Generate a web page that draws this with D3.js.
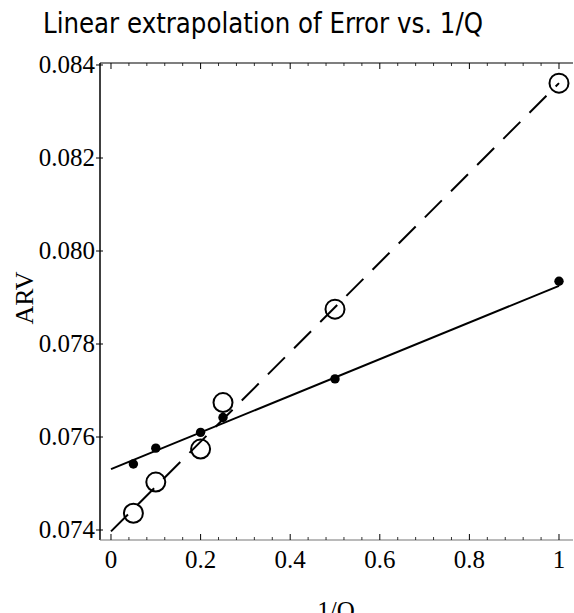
<!DOCTYPE html>
<html>
<head>
<meta charset="utf-8">
<script src="https://cdn.jsdelivr.net/npm/d3@7"></script>
<style>
  html, body { margin: 0; padding: 0; background: #fff; }
  svg { display: block; }
</style>
</head>
<body>
<svg id="chart" width="574" height="613"></svg>
<script>
// ---- data ----
const invQ        = [0.05, 0.10, 0.20, 0.25, 0.50, 1.00];
const errorFilled = [0.07542, 0.07576, 0.07610, 0.07642, 0.07725, 0.07935];
const errorOpen   = [0.07436, 0.07503, 0.07574, 0.07674, 0.07875, 0.08361];
const fitSolidX   = [0, 1];
const fitSolidY   = [0.07531, 0.07925];
const fitDashedX  = [0, 1];
const fitDashedY  = [0.07397, 0.08361];
const xTicks      = [0, 0.2, 0.4, 0.6, 0.8, 1];
const xTickLabels = ["0", "0.2", "0.4", "0.6", "0.8", "1"];
const yTicks      = [0.074, 0.076, 0.078, 0.080, 0.082, 0.084];
const yTickLabels = ["0.074", "0.076", "0.078", "0.080", "0.082", "0.084"];
const xMinorTicks = d3.range(0, 26).map(i => i * 0.04).filter(v => v <= 1.0001 && Math.abs(v / 0.2 - Math.round(v / 0.2)) > 1e-6);

// ---- layout ----
const pLeft = 100, pRight = 573, pTop = 63, pBottom = 540;
const svg = d3.select("#chart");

const x = d3.scaleLinear().domain([-0.02455, 1.03125]).range([pLeft, pRight]);
const y = d3.scaleLinear().domain([0.073785, 0.084043]).range([pBottom, pTop]);

// title
svg.append("text")
  .attr("x", 263).attr("y", 33)
  .attr("text-anchor", "middle")
  .attr("font-family", "DejaVu Sans, sans-serif")
  .attr("font-size", 28)
  .attr("textLength", 440)
  .attr("lengthAdjust", "spacingAndGlyphs")
  .attr("fill", "#000")
  .text("Linear extrapolation of Error vs. 1/Q");

// frame
svg.append("line").attr("x1", pLeft).attr("x2", pLeft).attr("y1", pTop).attr("y2", pBottom)
  .attr("stroke", "#000").attr("stroke-width", 1.5);
svg.append("line").attr("x1", pLeft).attr("x2", pRight).attr("y1", pTop).attr("y2", pTop)
  .attr("stroke", "#000").attr("stroke-width", 1.2);
svg.append("line").attr("x1", pLeft).attr("x2", pRight).attr("y1", pBottom).attr("y2", pBottom)
  .attr("stroke", "#777").attr("stroke-width", 1.2);

// x ticks (bottom and top)
const gx = svg.append("g");
gx.selectAll(".xmaj").data(xTicks).join("g").each(function(d) {
  const g = d3.select(this);
  g.append("line").attr("x1", x(d)).attr("x2", x(d)).attr("y1", pBottom).attr("y2", pBottom - 6)
    .attr("stroke", "#000").attr("stroke-width", 1);
  g.append("line").attr("x1", x(d)).attr("x2", x(d)).attr("y1", pTop).attr("y2", pTop + 6)
    .attr("stroke", "#000").attr("stroke-width", 1);
});
gx.selectAll(".xmin").data(xMinorTicks).join("g").each(function(d) {
  const g = d3.select(this);
  g.append("line").attr("x1", x(d)).attr("x2", x(d)).attr("y1", pBottom).attr("y2", pBottom - 3)
    .attr("stroke", "#000").attr("stroke-width", 0.8);
  g.append("line").attr("x1", x(d)).attr("x2", x(d)).attr("y1", pTop).attr("y2", pTop + 3)
    .attr("stroke", "#000").attr("stroke-width", 0.8);
});
gx.selectAll(".xlab").data(xTicks).join("text")
  .attr("x", d => x(d)).attr("y", 568)
  .attr("text-anchor", "middle")
  .attr("font-family", "Liberation Serif, Times New Roman, serif")
  .attr("font-size", 25)
  .text((d, i) => xTickLabels[i]);

// y ticks
const gy = svg.append("g");
gy.selectAll("line").data(yTicks).join("line")
  .attr("x1", pLeft - 4).attr("x2", pLeft + 3)
  .attr("y1", d => y(d)).attr("y2", d => y(d))
  .attr("stroke", "#000").attr("stroke-width", 1);
gy.selectAll("text").data(yTicks).join("text")
  .attr("x", 95).attr("y", d => y(d) + 8)
  .attr("text-anchor", "end")
  .attr("font-family", "Liberation Serif, Times New Roman, serif")
  .attr("font-size", 25)
  .text((d, i) => yTickLabels[i]);

// axis labels
svg.append("text")
  .attr("transform", "translate(33,298) rotate(-90)")
  .attr("text-anchor", "middle")
  .attr("font-family", "Liberation Serif, Times New Roman, serif")
  .attr("font-size", 26)
  .text("ARV");
svg.append("text")
  .attr("x", 336).attr("y", 619)
  .attr("text-anchor", "middle")
  .attr("font-family", "Liberation Serif, Times New Roman, serif")
  .attr("font-size", 25)
  .text("1/Q");

// fitted lines
const line = d3.line().x(d => x(d[0])).y(d => y(d[1]));
svg.append("path")
  .datum(fitSolidX.map((v, i) => [v, fitSolidY[i]]))
  .attr("d", line).attr("fill", "none").attr("stroke", "#000").attr("stroke-width", 2);
svg.append("path")
  .datum(fitDashedX.map((v, i) => [v, fitDashedY[i]]))
  .attr("d", line).attr("fill", "none").attr("stroke", "#000").attr("stroke-width", 2)
  .attr("stroke-dasharray", "24,13");

// points
svg.append("g").selectAll("circle").data(invQ).join("circle")
  .attr("cx", d => x(d)).attr("cy", (d, i) => y(errorFilled[i]))
  .attr("r", 4.7).attr("fill", "#000");
svg.append("g").selectAll("circle").data(invQ).join("circle")
  .attr("cx", d => x(d)).attr("cy", (d, i) => y(errorOpen[i]))
  .attr("r", 9.5).attr("fill", "none").attr("stroke", "#000").attr("stroke-width", 2);
</script>
</body>
</html>
